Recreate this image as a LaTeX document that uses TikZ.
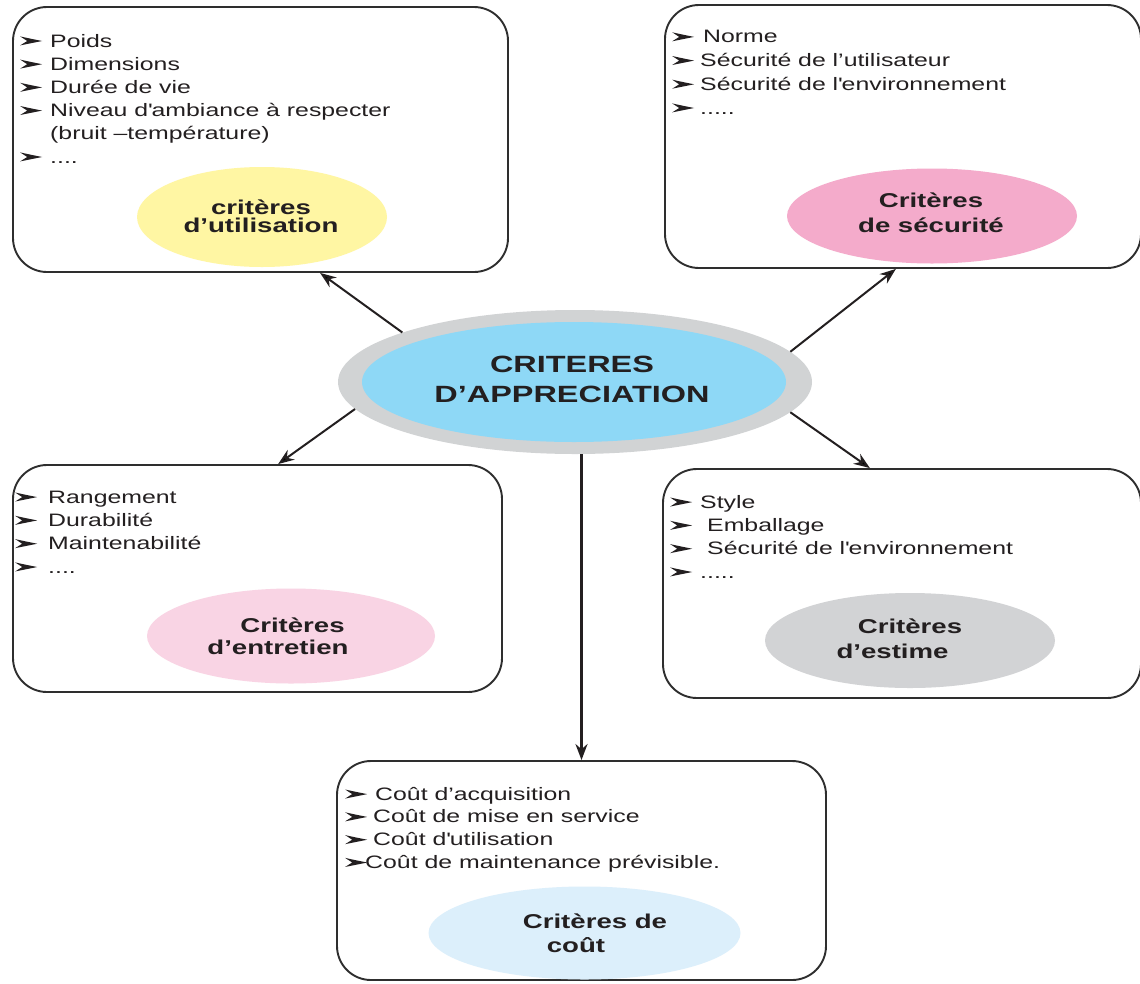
\documentclass[tikz,border=0pt]{standalone}
\usepackage{fontspec}
\setmainfont{Liberation Sans}[FakeStretch=1.38]
\usetikzlibrary{calc,arrows.meta,shapes.geometric}

\definecolor{ink}{HTML}{231F20}
\definecolor{edge}{HTML}{2E2E2E}
\definecolor{useY}{HTML}{FFF6A3}
\definecolor{secP}{HTML}{F4ABCB}
\definecolor{entP}{HTML}{F9D4E4}
\definecolor{estG}{HTML}{D2D3D5}
\definecolor{coutB}{HTML}{DCEFFB}
\definecolor{ctrB}{HTML}{8ED8F6}
\definecolor{ctrG}{HTML}{D1D3D4}

% straight typewriter apostrophe
\newcommand\sq{\textquotesingle}
% list marker: a thin right-pointing arrowhead, set in a box of width #1
\newcommand\bul[1]{\makebox[#1][l]{\tikz[baseline=0pt,x=1pt,y=1pt]\fill[ink] (0,1.6) .. controls (8,3.2) .. (22,6) .. controls (8,8.8) .. (0,10.6) -- (7,6) -- cycle;}}

\tikzset{
  card/.style={draw=edge, line width=1.9pt, rounded corners=34pt, inner sep=0pt, fill=white},
  blob/.style={ellipse, inner sep=0pt, draw=none},
  % lists are placed by the baseline of their last line
  items/.style={anchor=base west, align=left, inner sep=0pt, text=ink},
  tag/.style={anchor=base, inner sep=0pt, text=ink, font=\fontsize{20}{20}\selectfont\bfseries},
  arr/.style={draw=ink, line width=2pt, -{Stealth[length=16pt,width=12pt]}}
}

\begin{document}
\begin{tikzpicture}[x=1pt,y=-1pt]
\useasboundingbox (0,0) rectangle (1140,983);

% boxes
\node[card, minimum width=495pt, minimum height=265pt] (util) at (260.5,139.5) {};
\node[card, minimum width=476pt, minimum height=263pt] (secu) at (903,136.5) {};
\node[card, minimum width=489pt, minimum height=227pt] (entr) at (257.5,578.5) {};
\node[card, minimum width=478pt, minimum height=229pt] (esti) at (902,583.5) {};
\node[card, minimum width=489pt, minimum height=219pt] (cout) at (581.5,870.5) {};

% coloured ellipses inside the boxes
\node[blob, fill=useY, minimum width=250pt, minimum height=100pt] (utilE) at (262,217) {};
\node[blob, fill=secP, minimum width=290pt, minimum height=95pt] (secuE) at (932,216) {};
\node[blob, fill=entP, minimum width=288pt, minimum height=95pt] (entrE) at (291,636) {};
\node[blob, fill=estG, minimum width=290pt, minimum height=95pt] (estiE) at (910,640.5) {};
\node[blob, fill=coutB, minimum width=312pt, minimum height=93pt] (coutE) at (584.5,933) {};

% central ellipse with grey ring
\node[blob, fill=ctrG, minimum width=474pt, minimum height=144pt] (ctrO) at (575,382) {};
\node[blob, fill=ctrB, minimum width=424pt, minimum height=120pt] (ctrI) at (574,382) {};
\node[tag, font=\fontsize{23.5}{23.5}\selectfont\bfseries] (ctrT1) at (572,372) {CRITERES};
\node[tag, font=\fontsize{23.5}{23.5}\selectfont\bfseries] (ctrT2) at (572,402) {D’APPRECIATION};

% ellipse labels
\node[tag] (utilT1) at (261,214) {critères};
\node[tag] (utilT2) at (261,232) {d’utilisation};
\node[tag] (secuT1) at (931,207) {Critères};
\node[tag] (secuT2) at (931,232) {de sécurité};
\node[tag] (entrT1) at (292.5,632) {Critères};
\node[tag] (entrT2) at (278,654) {d’entretien};
\node[tag] (estiT1) at (910,633) {Critères};
\node[tag] (estiT2) at (892.5,658) {d’estime};
\node[tag] (coutT1) at (595,928) {Critères de};
\node[tag] (coutT2) at (576,952) {coût};

% item lists
\node[items, font=\fontsize{18}{23.2}\selectfont] (utilL) at (20,163) {%
\bul{30pt}Poids\\
\bul{30pt}Dimensions\\
\bul{30pt}Durée de vie\\
\bul{30pt}Niveau d\sq ambiance à respecter\\
\hspace*{30pt}(bruit –température)\\
\bul{30pt}....};

\node[items, font=\fontsize{18}{23.7}\selectfont] (secuL) at (672,114) {%
\bul{31pt}Norme\\
\bul{28pt}Sécurité de l’utilisateur\\
\bul{28pt}Sécurité de l\sq environnement\\
\bul{28pt}.....};

\node[items, font=\fontsize{18}{23.3}\selectfont] (entrL) at (15,573) {%
\bul{33pt}Rangement\\
\bul{33pt}Durabilité\\
\bul{33pt}Maintenabilité\\
\bul{33pt}....};

\node[items, font=\fontsize{18}{23.3}\selectfont] (estiL) at (670,578) {%
\bul{30pt}Style\\
\bul{37pt}Emballage\\
\bul{37pt}Sécurité de l\sq environnement\\
\bul{30pt}.....};

\node[items, font=\fontsize{18}{22.8}\selectfont] (coutL) at (345,868.5) {%
\bul{30pt}Coût d’acquisition\\
\bul{28pt}Coût de mise en service\\
\bul{28pt}Coût d\sq utilisation\\
\bul{20pt}Coût de maintenance prévisible.};

% connectors
\draw[arr] (ctrO.164) -- ($(util.south west)!0.62!(util.south east)$);
\draw[arr] (ctrO.8.4) -- ($(secu.south west)!0.485!(secu.south east)$);
\draw[arr] (ctrO.187.3) -- ($(entr.north west)!0.542!(entr.north east)$);
\draw[arr] (ctrO.352.6) -- ($(esti.north west)!0.433!(esti.north east)$);
\draw[arr, line width=2.6pt] (ctrO.south -| cout.north) -- (cout.north);
\end{tikzpicture}
\end{document}
